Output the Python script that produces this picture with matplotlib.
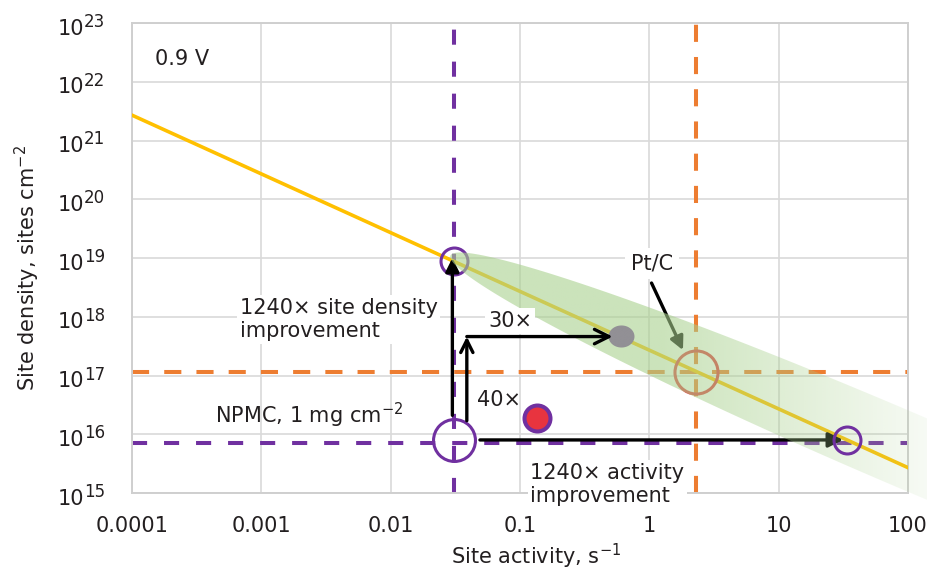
import numpy as np
import matplotlib
matplotlib.use('Agg')
import matplotlib.pyplot as plt
from matplotlib.patches import Polygon
from matplotlib.path import Path
from matplotlib.ticker import NullLocator
from matplotlib.transforms import offset_copy

plt.rcParams['font.family'] = ['DejaVu Sans']
plt.rcParams['mathtext.fontset'] = 'dejavusans'

# ---------------- data ----------------
x_tick_values = [1e-4, 1e-3, 1e-2, 1e-1, 1, 10, 100]
x_tick_labels = ['0.0001', '0.001', '0.01', '0.1', '1', '10', '100']
y_tick_exponents = [15, 16, 17, 18, 19, 20, 21, 22, 23]

tradeoff_activity = [1e-4, 100]
tradeoff_density = [2.7e21, 2.7e15]

npmc_activity = 0.031      # purple vertical dashed
npmc_density = 7.2e15      # purple horizontal dashed
ptc_activity = 2.3         # orange vertical dashed
ptc_density = 1.15e17      # orange horizontal dashed

npmc_point = (0.031, 8.0e15)
density_target = (0.031, 9.0e18)
activity_target = (33.5, 8.0e15)
combined_point = (0.6, 4.7e17)
measured_point = (0.135, 1.9e16)
ptc_point = (2.3, 1.15e17)

band_tip = (0.029, 1.1e19)
band_center = (87, 5.9e15)

arrow_density = [(0.030, 2.1e16), (0.030, 1.0e19)]
arrow_40x = [(0.0388, 1.7e16), (0.0388, 4.6e17)]
arrow_30x = [(0.0388, 4.6e17), (0.52, 4.6e17)]
arrow_activity = [(0.049, 8.0e15), (31.5, 8.0e15)]
arrow_ptc = [(1.04, 3.75e18), (1.82, 2.7e17)]

# ---------------- figure ----------------
W, H = 928, 571
fig = plt.figure(figsize=(W / 100, H / 100), dpi=100)
rect = [132 / W, 1 - 493 / H, 776 / W, 470 / H]
xlim = (1e-4, 100)
ylim = (1e15, 1e23)
TXT = '#231f20'
PURPLE = '#7030A0'
ORANGE = '#ED7D31'

ax = fig.add_axes(rect)
ax.set_xscale('log')
ax.set_yscale('log')
ax.set_xlim(xlim)
ax.set_ylim(ylim)
ax.set_xticks(x_tick_values, labels=x_tick_labels)
ax.set_yticks([10.0 ** e for e in y_tick_exponents])
ax.xaxis.set_minor_locator(NullLocator())
ax.yaxis.set_minor_locator(NullLocator())
ax.tick_params(length=0, labelsize=15, labelcolor=TXT)
ax.tick_params(axis='x', pad=16.5)
ax.tick_params(axis='y', labelleft=False)
ax.grid(True, color='#d9d9d9', lw=1.2)
ax.set_axisbelow(True)
for s in ax.spines.values():
    s.set_color('#cfcfcf')
    s.set_linewidth(1.4)

ax.set_xlabel('Site activity, s$^{-1}$', fontsize=15, color=TXT)
ax.xaxis.set_label_coords(0.521, -0.104)
ax.set_ylabel('Site density, sites cm$^{-2}$', fontsize=15, color=TXT)
ax.yaxis.set_label_coords(-0.116, 0.479)

# dashed reference lines
ax.axvline(npmc_activity, color=PURPLE, lw=2.9, dashes=(3.75, 4.2), zorder=2)
ax.axhline(npmc_density, color=PURPLE, lw=2.9, dashes=(3.75, 4.2), zorder=2)
ax.axvline(ptc_activity, color=ORANGE, lw=2.9, dashes=(4.25, 3.75), zorder=2)
ax.axhline(ptc_density, color=ORANGE, lw=2.9, dashes=(4.25, 3.75), zorder=2)

# trade-off line
ax.plot(tradeoff_activity, tradeoff_density, color='#FFC000', lw=2.6, zorder=3)

# circles
ax.plot(*density_target, 'o', ms=19.4, mfc='none', mec=PURPLE, mew=2.2, zorder=4)
ax.plot(*npmc_point, 'o', ms=30.2, mfc='none', mec=PURPLE, mew=2.2, zorder=4)
ax.plot(*ptc_point, 'o', ms=31, mfc='none', mec='#E0383F', mew=2.2, zorder=4)
theta = np.linspace(0, 2 * np.pi, 60)
ell_marker = Path(np.c_[np.cos(theta), 0.85 * np.sin(theta)], closed=True)
ax.plot(*combined_point, marker=ell_marker, ms=18.7, mfc=PURPLE, mec='none',
        ls='none', zorder=4)


def draw_arrow(a, pts, style, scale):
    a.annotate('', xy=pts[1], xytext=pts[0],
               arrowprops=dict(arrowstyle=style, color='black', lw=2.4,
                               shrinkA=0, shrinkB=0, mutation_scale=scale),
               zorder=5)


draw_arrow(ax, arrow_density, '-|>', 20)
draw_arrow(ax, arrow_activity, '-|>', 22)
draw_arrow(ax, arrow_ptc, '-|>', 20)

# ---------------- green band (overlay in log units) ----------------
axg = fig.add_axes(rect)
lxlim = np.log10(xlim)
lylim = np.log10(ylim)
sx = rect[2] * W / (lxlim[1] - lxlim[0])
sy = rect[3] * H / (lylim[1] - lylim[0])
tx, ty = np.log10(band_tip)
cx, cy = np.log10(band_center)
du, dv = (cx - tx) * sx, (cy - ty) * sy
a_len = np.hypot(du, dv)
ang = np.arctan2(dv, du)
b_len = 37.5
t = np.linspace(0, 2 * np.pi, 400)
u = a_len * np.cos(t)
v = b_len * np.sin(t)
lx = cx + (u * np.cos(ang) - v * np.sin(ang)) / sx
ly = cy + (u * np.sin(ang) + v * np.cos(ang)) / sy
clip = Polygon(np.c_[lx, ly], closed=True, transform=axg.transData)
gx = np.linspace(lx.min(), lx.max(), 400)
alpha = np.interp(gx, [-2.0, 0.1, 2.2, 3.5], [0.6, 0.6, 0.08, 0.0])
img = np.zeros((2, gx.size, 4))
img[..., 0] = 169 / 255
img[..., 1] = 209 / 255
img[..., 2] = 142 / 255
img[..., 3] = alpha
im = axg.imshow(img, extent=[gx[0], gx[-1], ly.min(), ly.max()], origin='lower',
                aspect='auto', interpolation='bilinear')
im.set_clip_path(clip)
im.set_clip_box(fig.bbox)
axg.set_xlim(lxlim)
axg.set_ylim(lylim)
axg.axis('off')
axg.patch.set_visible(False)

# ---------------- top layer ----------------
axt = fig.add_axes(rect)
axt.set_xscale('log')
axt.set_yscale('log')
axt.set_xlim(xlim)
axt.set_ylim(ylim)
axt.axis('off')
axt.patch.set_visible(False)

draw_arrow(axt, arrow_40x, '->', 22)
draw_arrow(axt, arrow_30x, '->', 26)

axt.plot(*activity_target, 'o', ms=19.4, mfc='none', mec=PURPLE, mew=2.2, zorder=4)
axt.plot(*measured_point, 'o', ms=18.7, mfc='#E8343F', mec=PURPLE, mew=2.9,
         zorder=4, clip_on=False)

# y tick labels 10^n
for e in y_tick_exponents:
    axt.text(0, 10.0 ** e, '10', fontsize=15, color=TXT, ha='right', va='baseline',
             transform=offset_copy(axt.get_yaxis_transform(), fig=fig, x=-48, y=-11.7,
                                   units='dots'), clip_on=False)
    axt.text(0, 10.0 ** e, str(e), fontsize=12, color=TXT, ha='left', va='baseline',
             transform=offset_copy(axt.get_yaxis_transform(), fig=fig, x=-48, y=-4,
                                   units='dots'), clip_on=False)

box = dict(facecolor='white', edgecolor='none', pad=2)
axt.text(0.0296, 0.9106, '0.9 V', transform=axt.transAxes, fontsize=15, color=TXT,
         va='baseline')
# multi-line texts: anchored at the baseline of the last line
axt.text(6.8e-4, 4.5e17, '1240\u00d7 site density\nimprovement', fontsize=15, color=TXT,
         va='baseline', ha='left', bbox=box, clip_on=False)
axt.text(0.0566, 6.7e17, '30\u00d7', fontsize=15, color=TXT, va='baseline', bbox=box)
axt.text(0.0466, 3.0e16, '40\u00d7', fontsize=15, color=TXT, va='baseline')
axt.text(4.4e-4, 1.55e16, 'NPMC, 1 mg cm$^{-2}$', fontsize=15, color=TXT, va='baseline')
axt.text(0.12, 7.0e14, '1240\u00d7 activity\nimprovement', fontsize=15, color=TXT,
         va='baseline', ha='left', bbox=box, clip_on=False)
axt.text(1.05, 6.3e18, 'Pt/C', fontsize=15, color=TXT, va='baseline', ha='center',
         bbox=dict(facecolor='white', edgecolor='none', pad=4))

fig.savefig('out.png', dpi=100, facecolor='white')
